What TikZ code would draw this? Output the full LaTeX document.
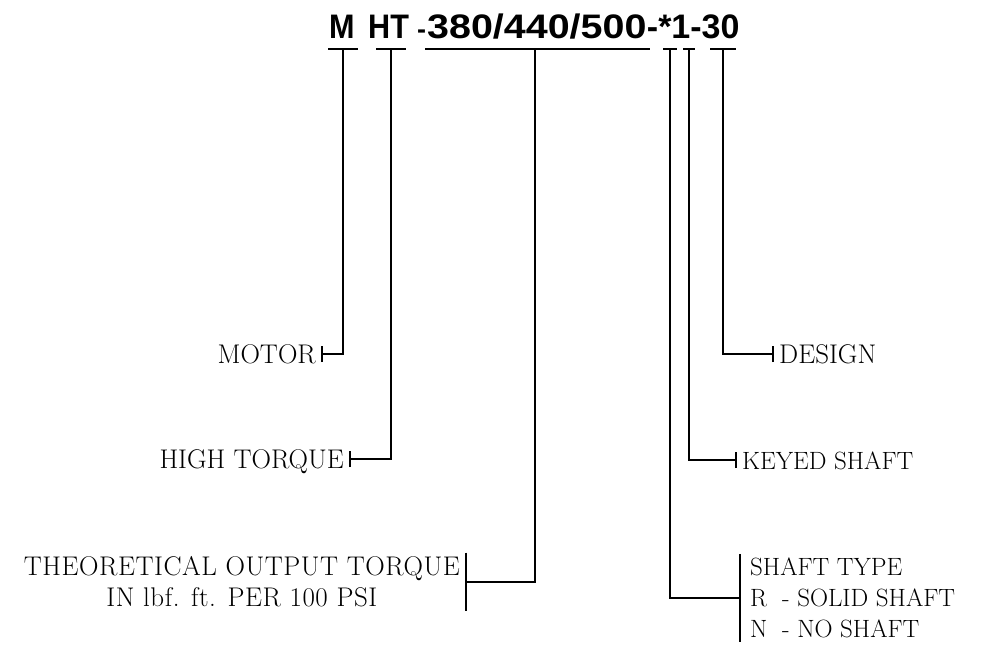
\documentclass[tikz,border=0pt]{standalone}
\usepackage{fontspec}
\newfontfamily\titlefont{Liberation Sans}[FakeStretch=1.16]
\newfontfamily\titlefontn{Liberation Sans}[FakeStretch=0.9]
\newfontfamily\titlefontc{Liberation Sans}
\newfontfamily\lblwide{Latin Modern Roman}[LetterSpace=2]
\begin{document}
\begin{tikzpicture}[x=1pt,y=-1pt,
  ttl/.style={font=\titlefontn\bfseries\fontsize{34}{40}\selectfont, inner sep=0pt, anchor=base west},
  lbl/.style={font=\fontsize{27}{31}\selectfont, text height=18pt, text depth=0pt, inner ysep=0pt, inner xsep=6pt},
  lbls/.style={lbl, font=\fontsize{25}{31}\selectfont},
  conn/.style={line width=1.2pt},
  bar/.style={line width=1.2pt},
  utick/.style={line width=2pt}]
\useasboundingbox (0,0) rectangle (988,651);
% title
\node[ttl] (tM) at (329,38) {M};
\node[ttl] (tHT) at (368,38) {HT};
\node[ttl, font=\titlefontc\bfseries\fontsize{27}{30}\selectfont] (tDash) at (417,38) {-};
\node[ttl, font=\titlefont\bfseries\fontsize{34}{40}\selectfont] (tNum) at (427,38) {380/440/500};
\node[ttl, font=\titlefontc\bfseries\fontsize{34}{40}\selectfont] (tEnd) at (tNum.base east) {-*1-30};
% tick anchors under the title
\coordinate (sM) at (343,49);
\coordinate (sHT) at (391,49);
\coordinate (sNum) at (535,49);
\coordinate (sStar) at (670,49);
\coordinate (sOne) at (689,49);
\coordinate (sDes) at (723,49);
\draw[utick] ([xshift=-15pt]sM) -- ([xshift=15pt]sM);
\draw[utick] ([xshift=-15pt]sHT) -- ([xshift=15pt]sHT);
\draw[utick] ([xshift=-110pt]sNum) -- ([xshift=115pt]sNum);
\draw[utick] ([xshift=-7pt]sStar) -- ([xshift=7pt]sStar);
\draw[utick] ([xshift=-6pt]sOne) -- ([xshift=6pt]sOne);
\draw[utick] ([xshift=-13pt]sDes) -- ([xshift=13pt]sDes);
% labels
\node[lbl, anchor=east] (motor) at (322,354) {MOTOR};
\node[lbl, anchor=east] (high) at (350,459) {HIGH TORQUE};
\node[lbl, font=\lblwide\fontsize{27}{31}\selectfont, anchor=east, align=center, text height=, text depth=, inner ysep=4pt] (theo) at (466,582)
  {THEORETICAL OUTPUT TORQUE\\IN lbf. ft. PER 100 PSI};
\node[lbl, anchor=west] (design) at (773,354) {DESIGN};
\node[lbls, anchor=west] (keyed) at (736,460) {KEYED SHAFT};
\node[lbls, anchor=west, align=left, text height=, text depth=, inner ysep=4pt, inner xsep=10pt] (shaft) at (740,598)
  {SHAFT TYPE\\\makebox[32pt][l]{R}- SOLID SHAFT\\\makebox[32pt][l]{N}- NO SHAFT};
% connectors
\draw[conn] (sM) |- (motor.east);
\draw[conn] (sHT) |- (high.east);
\draw[conn] (sNum) |- (theo.east);
\draw[conn] (sDes) |- (design.west);
\draw[conn] (sOne) |- (keyed.west);
\draw[conn] (sStar) |- (shaft.west);
% end bars
\draw[bar] ([yshift=-8pt]motor.east) -- ([yshift=8pt]motor.east);
\draw[bar] ([yshift=-8pt]high.east) -- ([yshift=8pt]high.east);
\draw[bar] (theo.north east) -- (theo.south east);
\draw[bar] ([yshift=-8pt]design.west) -- ([yshift=8pt]design.west);
\draw[bar] ([yshift=-8pt]keyed.west) -- ([yshift=8pt]keyed.west);
\draw[bar] (shaft.north west) -- (shaft.south west);
\end{tikzpicture}
\end{document}
